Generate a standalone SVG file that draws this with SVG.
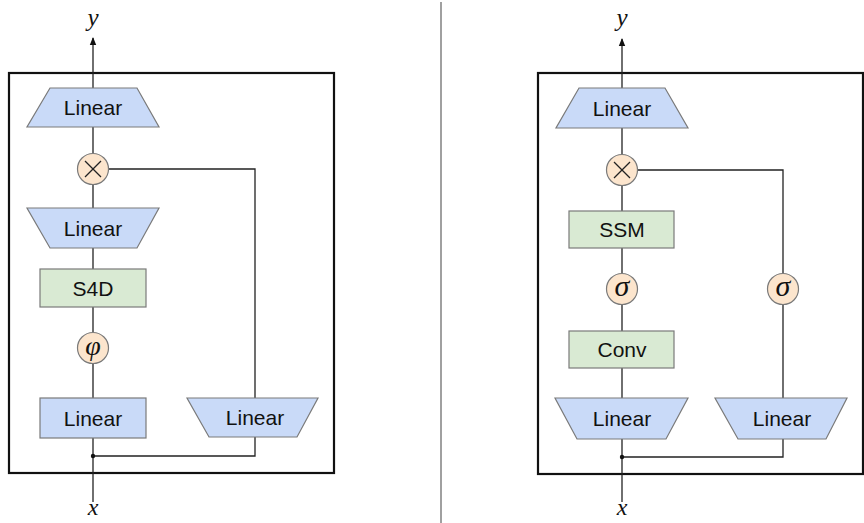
<svg xmlns="http://www.w3.org/2000/svg" width="864" height="523" viewBox="0 0 864 523">
<defs>
<style>
.lin{fill:#c9daf8;stroke:#7a7a7a;stroke-width:1.2}
.grn{fill:#d9ead3;stroke:#7a7a7a;stroke-width:1.2}
.op{fill:#fce5cd;stroke:#7a7a7a;stroke-width:1.2}
.frame{fill:none;stroke:#111;stroke-width:2.2}
.wire{fill:none;stroke:#222;stroke-width:1.3}
.lbl{font-family:"Liberation Sans",Arial,sans-serif;font-size:21px;fill:#111;text-anchor:middle}
.math{font-family:"Liberation Serif","DejaVu Serif",serif;font-style:italic;fill:#111;text-anchor:middle}
.xs{stroke:#222;stroke-width:1.2}
</style>
<marker id="arr" viewBox="0 0 8 8" refX="7" refY="4" markerWidth="8" markerHeight="8" markerUnits="userSpaceOnUse" orient="auto">
<path d="M0,0.8 L8,4 L0,7.2 Z" fill="#111"/>
</marker>
</defs>
<rect width="864" height="523" fill="#fff"/>
<line x1="441" y1="2" x2="441" y2="523" stroke="#808080" stroke-width="1.5"/>
<rect class="frame" x="9" y="73" width="325" height="400"/>
<rect class="frame" x="538" y="73" width="325" height="401"/>

<g id="connectors">
<line class="wire" x1="93" y1="88" x2="93" y2="38" marker-end="url(#arr)"/>
<line class="wire" x1="93" y1="127" x2="93" y2="153"/>
<line class="wire" x1="93" y1="185" x2="93" y2="208"/>
<line class="wire" x1="93" y1="248" x2="93" y2="269"/>
<line class="wire" x1="93" y1="307" x2="93" y2="332"/>
<line class="wire" x1="93" y1="364" x2="93" y2="398"/>
<line class="wire" x1="93" y1="438" x2="93" y2="502"/>
<polyline class="wire" points="108.5,169 255,169 255,398"/>
<polyline class="wire" points="93,456 255,456 255,437"/>
<circle cx="93" cy="456" r="2.2" fill="#111"/>

<line class="wire" x1="622" y1="88" x2="622" y2="39" marker-end="url(#arr)"/>
<line class="wire" x1="622" y1="128" x2="622" y2="154"/>
<line class="wire" x1="622" y1="186" x2="622" y2="211"/>
<line class="wire" x1="622" y1="248" x2="622" y2="273"/>
<line class="wire" x1="622" y1="305" x2="622" y2="331"/>
<line class="wire" x1="622" y1="368" x2="622" y2="398"/>
<line class="wire" x1="622" y1="439" x2="622" y2="502"/>
<polyline class="wire" points="637.5,170 783,170 783,273"/>
<line class="wire" x1="783" y1="305" x2="783" y2="398"/>
<polyline class="wire" points="622,457 783,457 783,439"/>
<circle cx="622" cy="457" r="2.2" fill="#111"/>
</g>

<g id="left-y"><text class="math" x="93" y="26" font-size="25">y</text></g>
<g id="left-x"><text class="math" x="93" y="515" font-size="24">x</text></g>
<g id="left-linear-top"><polygon class="lin" points="50,88 137,88 159,127 27,127"/><text class="lbl" x="93" y="115">Linear</text></g>
<g id="left-mul"><circle class="op" cx="93" cy="169" r="15.5"/><line class="xs" x1="85" y1="161" x2="101" y2="177"/><line class="xs" x1="101" y1="161" x2="85" y2="177"/></g>
<g id="left-linear-mid"><polygon class="lin" points="27,208 159,208 137,248 50,248"/><text class="lbl" x="93" y="235.5">Linear</text></g>
<g id="left-s4d"><rect class="grn" x="40" y="269" width="106" height="38"/><text class="lbl" x="93" y="295.5">S4D</text></g>
<g id="left-phi"><circle class="op" cx="93" cy="348" r="15.5"/><text class="math" x="93" y="355" font-size="28">φ</text></g>
<g id="left-linear-bot"><rect class="lin" x="40" y="398" width="106" height="40"/><text class="lbl" x="93" y="425.5">Linear</text></g>
<g id="left-linear-right"><polygon class="lin" points="187,398 318,398 297,437 209,437"/><text class="lbl" x="255" y="425">Linear</text></g>

<g id="right-y"><text class="math" x="622" y="26" font-size="25">y</text></g>
<g id="right-x"><text class="math" x="622" y="515" font-size="24">x</text></g>
<g id="right-linear-top"><polygon class="lin" points="579,88 665,88 688,128 556,128"/><text class="lbl" x="622" y="115.5">Linear</text></g>
<g id="right-mul"><circle class="op" cx="622" cy="170" r="15.5"/><line class="xs" x1="614" y1="162" x2="630" y2="178"/><line class="xs" x1="630" y1="162" x2="614" y2="178"/></g>
<g id="right-ssm"><rect class="grn" x="569" y="211" width="105" height="37"/><text class="lbl" x="622" y="237">SSM</text></g>
<g id="right-sigma-left"><circle class="op" cx="622" cy="289" r="15.5"/><text class="math" x="622" y="296" font-size="30">σ</text></g>
<g id="right-conv"><rect class="grn" x="569" y="331" width="105" height="37"/><text class="lbl" x="622" y="357">Conv</text></g>
<g id="right-linear-bot"><polygon class="lin" points="555,398 688,398 666,439 577,439"/><text class="lbl" x="622" y="426">Linear</text></g>
<g id="right-sigma-right"><circle class="op" cx="783" cy="289" r="15.5"/><text class="math" x="783" y="296" font-size="30">σ</text></g>
<g id="right-linear-right"><polygon class="lin" points="715,398 847,398 826,439 738,439"/><text class="lbl" x="782" y="426">Linear</text></g>
</svg>
